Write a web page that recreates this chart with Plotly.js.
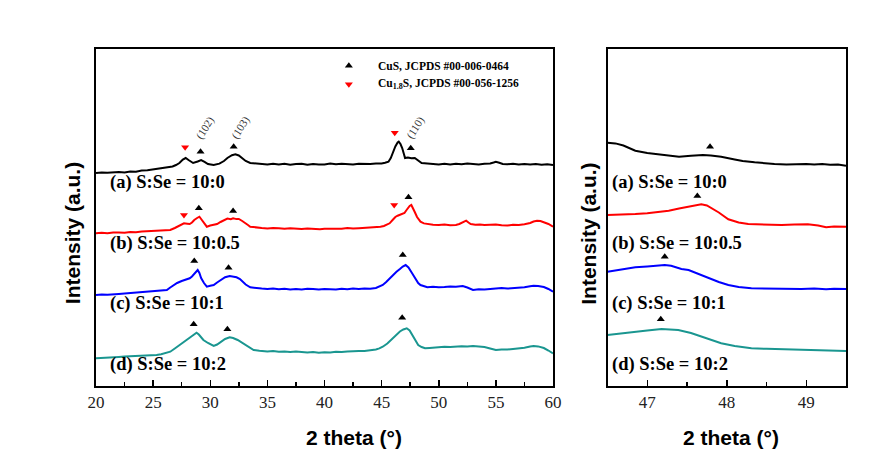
<!DOCTYPE html>
<html>
<head>
<meta charset="utf-8">
<script src="https://cdn.plot.ly/plotly-3.0.1.min.js"></script>
<style>html,body{margin:0;padding:0;background:#fff;}#chart{width:892px;height:462px;}</style>
</head>
<body>
<div id="chart"></div>
<script>
// ---- Left panel (2θ 20–60) ----
const leftX_a = [20,20.5,21,21.5,22,22.5,23,23.5,24,24.5,25,25.5,26,26.4,26.7,27.0,27.3,27.6,27.85,28.1,28.5,28.9,29.2,29.5,29.8,30.3,30.8,31.2,31.5,31.9,32.2,32.5,32.8,33.1,33.5,34,34.5,35,35.5,36,36.5,37,37.5,38,38.5,39,39.5,40,40.5,41,41.5,42,42.5,43,43.5,44,44.5,45,45.3,45.6,45.8,46.0,46.2,46.4,46.5,46.65,46.8,46.95,47.05,47.3,47.6,47.9,48.2,48.5,49,49.5,50,50.5,51,51.5,52,52.5,53,53.5,54,54.5,54.8,55,55.3,55.6,56,56.5,57,57.5,58,58.5,59,59.5,60];
const leftY_a = [213,213.6,213.2,213.9,214,213.6,214.6,214.3,215.5,215.8,216.5,217.4,218,218.6,219.5,221,223,226.5,228,226,223,224.5,226,224.2,222,221,222.4,225,228,230.8,231.7,230.5,228,225,223,222.4,222,221.4,222.3,221.5,222.2,221.3,222,222.3,221.2,222,221.6,221.5,222.4,221.7,222.2,222,221.4,222.3,222,222,222.6,222.5,223.2,224.3,228,234,239.5,243.5,244.3,242,238,232,228,228.5,227.8,228,225,223,222.6,222,221.6,222.3,221.5,222.2,221.7,222.4,222,221.5,222.2,222.5,223.5,224.3,223.2,222,221.7,222.2,221.5,222,221.4,222,221.3,221.8,221];

const leftX_b = [20,20.5,21,21.5,22,22.5,23,23.5,24,24.5,25,25.5,26,26.5,26.9,27.2,27.5,27.7,28,28.2,28.4,28.6,28.85,29.05,29.2,29.4,29.7,30,30.3,30.6,30.9,31.2,31.5,31.8,32.0,32.3,32.5,32.8,33.0,33.3,33.5,34,34.5,35,35.5,36,36.5,37,37.5,38,38.5,39,39.6,40,40.5,41,41.5,42,42.5,43,43.5,44,44.5,44.9,45.2,45.5,45.7,46,46.2,46.4,46.6,46.8,47.0,47.15,47.3,47.45,47.6,47.75,47.9,48.1,48.4,48.7,49,49.5,50,50.5,51,51.5,51.8,52.0,52.2,52.4,52.6,52.8,53.2,53.6,54,54.5,55,55.5,56,56.5,57,57.5,58,58.3,58.6,58.9,59.2,59.6,60];
const leftY_b = [152.7,153.2,152.8,153.6,153.5,153.2,154,153.7,154.5,154.8,155.2,155.5,155.8,156,158,160,161.5,162.7,162.3,162,163.5,166,168,169.3,167,164,159.3,160.5,161,162,164,166,167.5,166.8,167.7,166.9,167,165,163,161,159.3,158.4,158,157.5,158.1,157.7,157.2,157.8,157.1,157,157.5,156.8,156.7,157.3,157.1,157.5,157.2,157.9,157.4,157.7,158.2,158,158.5,159.2,160,161.5,162.7,166.5,169,170.3,171,172,173,175.5,178,180,181,178,174,169,164.3,162.6,162,161.3,161,161.4,160.8,161,162,163,164.5,165.3,163.5,162,161.3,161.6,161,161.4,161.5,160.7,160.5,161.2,161,161.8,163,164.5,165.3,165,164,162,159.3];

const leftX_c = [20,20.5,21,21.5,22,22.5,23,23.5,24,24.5,25,25.5,26,26.2,26.5,26.8,27.1,27.5,27.8,28.2,28.4,28.6,28.75,28.9,29.05,29.2,29.45,29.7,30,30.3,30.6,31.0,31.3,31.7,32.0,32.3,32.6,32.8,33.1,33.5,34,34.5,35,35.5,36,36.5,37,37.5,38,38.5,39,39.5,40,40.5,41,41.5,42,42.5,43,43.5,44,44.5,44.8,45.1,45.4,45.8,46.0,46.3,46.6,46.85,47.1,47.35,47.6,47.8,48.0,48.2,48.4,48.7,49.0,49.5,50,50.5,51,51.5,52.1,52.5,53.0,53.5,54,54.5,55,55.5,56,56.5,57,57.5,58,58.3,58.7,59.2,59.6,60];
const leftY_c = [91,91.6,91.2,91.9,92,92.4,92.8,93.3,94,94.4,94.8,95.3,95.8,96,98.5,101,103,105,106.2,107.7,109.5,112,114.5,116,113,108,103,99.3,100.2,101,103.5,107,108.8,110,109.2,108.7,107,105,101.5,98.7,97.8,97.4,97,97.6,96.8,97.2,96.5,97.1,96.6,97.3,97,96.4,97.1,96.7,96.5,97.2,96.8,97.4,97,97.5,97.3,98,99.2,101,104,109,111.5,114.3,117,119.5,121,118.5,114,110,106,103,101,99.5,98.7,99.3,98.7,99,99.6,99.3,100,98.5,96,96.8,96.4,97,97.6,98,97.4,97.8,98,98.7,99.8,100.3,100,99,97,94.3];

const leftX_d = [20,20.5,21,21.5,22,22.5,23,23.5,24,24.5,25,25.3,25.7,26.1,26.5,26.9,27.3,27.6,27.9,28.15,28.4,28.6,28.8,29.0,29.2,29.4,29.8,30.3,30.6,31.0,31.3,31.7,32.0,32.4,32.7,33.1,33.4,33.8,34.3,35,35.5,36,36.5,37,37.5,38,38.5,39,39.5,40,40.5,41,41.5,42,42.5,43,43.5,44,44.5,44.8,45.1,45.5,45.8,46.0,46.3,46.6,46.9,47.2,47.45,47.7,47.95,48.2,48.5,48.8,49.2,49.6,50,50.5,51,51.5,52,52.5,53,53.5,54,54.5,55,55.5,56,56.5,57,57.5,58,58.3,58.7,59.2,59.6,60];
const leftY_d = [27.7,28.2,28.5,28.8,29,29.4,29.6,29.9,30,30.5,30.8,31,31.8,32.8,34.3,37.5,41,43.5,46,48.2,50,51.8,53.3,51.5,48.2,46,43,40,41.5,45,47,48.7,48,46,43.8,41,38.5,36,35.2,34.5,34.9,34.2,34.6,34,34.4,33.8,33.6,33.9,33.3,33.8,33.5,34.2,34,34.6,34.4,34.9,35,35.6,36.5,37.6,39.3,42.5,46,48.5,52,54.5,56.5,57.7,55.5,51,46,41,39,37.7,38,38.5,38.5,39.2,39,39.5,39.8,39.4,40,39.6,39,37.5,36,36.6,36.4,37,37.4,38.2,39.5,40,39.6,38,35.5,32.7];

// ---- Right panel (2θ 46.5–49.5) ----
const rightX_a = [46.5,46.6,46.7,46.85,47.0,47.15,47.3,47.4,47.55,47.7,47.8,47.93,48.1,48.2,48.35,48.5,48.6,48.75,48.9,49.0,49.1,49.2,49.3,49.4,49.5];
const rightY_a = [243.3,242.6,240.5,235.3,233,231.5,230,229.3,230.2,231,230.4,229.3,226.5,225,223.7,222.3,222,221.5,222.1,222,221.5,222.1,221.3,221.6,220.3];
const rightX_b = [46.5,46.65,46.85,47.0,47.15,47.27,47.4,47.56,47.68,47.75,47.81,47.9,48.02,48.15,48.27,48.45,48.69,48.85,49.02,49.15,49.25,49.35,49.5];
const rightY_b = [171,171.3,172,172.8,174,175.3,177.5,180.3,181.7,180.5,177.7,173.5,166.7,163.5,162,161.4,161,161.6,161.7,160.5,158.7,159.5,159.3];
const rightX_c = [46.5,46.65,46.85,47.0,47.22,47.3,47.43,47.52,47.65,47.77,47.9,48.02,48.15,48.31,48.5,48.7,48.94,49.1,49.25,49.35,49.5];
const rightY_c = [114.3,116.5,118.7,119.5,121,120.2,117,116,112,107.7,104,101,99,97.7,97.3,97.2,97,97.5,96.8,97.3,97];
const rightX_d = [46.5,46.65,46.85,47.0,47.18,47.39,47.55,47.68,47.8,47.93,48.1,48.31,48.5,48.69,48.9,49.1,49.3,49.5];
const rightY_d = [51,52.5,54.3,55.5,57,56,53,49.3,46,42.7,40,37.7,37.2,36.7,36.4,36,35.4,35];

// ---- Phase markers ----
const cusLeftX = [29.15,32.05,47.55, 29.0,32.0,47.35, 28.6,31.6,46.85, 28.55,31.5,46.8];
const cusLeftY = [234.3,239.3,237.7, 177.7,175,188.7, 125,118.3,131, 61.7,56.7,68.3];
const cu18LeftX = [27.8,46.15, 27.7,46.1];
const cu18LeftY = [238.7,253.3, 171,181];
const cusRightX = [47.79,47.63,47.22,47.17];
const cusRightY = [239.3,190,129.3,66.7];

// ---- Labels ----
const sampleLabels = ['(a) S:Se = 10:0','(b) S:Se = 10:0.5','(c) S:Se = 10:1','(d) S:Se = 10:2'];
const hklLabels = ['(102)','(103)','(110)'];
const hklX = [29.5,32.64,47.95];
const hklY = [258,259,259];
const legendLabels = ['CuS, JCPDS #00-006-0464','Cu<sub>1.8</sub>S, JCPDS #00-056-1256'];
const legendMarkX = [42.13,42.13];
const legendMarkY = [320.3,301.7];
const leftTicks = [20,25,30,35,40,45,50,55,60];
const rightTicks = [47,48,49];

const colors = ['#000000','#ff0000','#0000ff','#1a9690'];
const lw = 2;

function line(x,y,c,xa,ya){return {x:x,y:y,type:'scatter',mode:'lines',line:{color:c,width:lw},xaxis:xa,yaxis:ya,hoverinfo:'skip',showlegend:false};}
function marks(x,y,c,sym,xa,ya,sz){return {x:x,y:y,type:'scatter',mode:'markers',marker:{color:c,symbol:sym,size:sz||7},xaxis:xa,yaxis:ya,hoverinfo:'skip',showlegend:false};}

const data = [
  line(leftX_a,leftY_a,colors[0],'x','y'),
  line(leftX_b,leftY_b,colors[1],'x','y'),
  line(leftX_c,leftY_c,colors[2],'x','y'),
  line(leftX_d,leftY_d,colors[3],'x','y'),
  line(rightX_a,rightY_a,colors[0],'x2','y2'),
  line(rightX_b,rightY_b,colors[1],'x2','y2'),
  line(rightX_c,rightY_c,colors[2],'x2','y2'),
  line(rightX_d,rightY_d,colors[3],'x2','y2'),
  marks(cusLeftX,cusLeftY,'#000','triangle-up','x','y'),
  marks(cu18LeftX,cu18LeftY,'#ff0000','triangle-down','x','y'),
  marks(cusRightX,cusRightY,'#000','triangle-up','x2','y2'),
  marks([legendMarkX[0]],[legendMarkY[0]],'#000','triangle-up','x','y'),
  marks([legendMarkX[1]],[legendMarkY[1]],'#ff0000','triangle-down','x','y')
];

const serif = 'Liberation Serif, Times New Roman, serif';
const annotations = [];
const labelY = [0.6046,0.4734,0.3435,0.21];
sampleLabels.forEach((t,i)=>{
  annotations.push({xref:'paper',yref:'paper',x:0.1211,y:labelY[i],xanchor:'left',yanchor:'middle',text:'<b>'+t+'</b>',showarrow:false,font:{family:serif,size:18.5,color:'#000'}});
  annotations.push({xref:'paper',yref:'paper',x:0.6839,y:labelY[i],xanchor:'left',yanchor:'middle',text:'<b>'+t+'</b>',showarrow:false,font:{family:serif,size:18.5,color:'#000'}});
});
hklLabels.forEach((t,i)=>{
  annotations.push({xref:'x',yref:'y',x:hklX[i],y:hklY[i],text:t,showarrow:false,textangle:-58,font:{family:serif,size:11,color:'#333'}});
});
legendLabels.forEach((t,i)=>{
  annotations.push({xref:'x',yref:'y',x:44.5,y:legendMarkY[i],xanchor:'left',yanchor:'middle',text:'<b>'+t+'</b>',showarrow:false,font:{family:serif,size:11.5,color:'#000'}});
});
const titleFontX = {family:'Liberation Sans, Arial, sans-serif',size:21,color:'#000'};
const titleFontY = {family:'Liberation Sans, Arial, sans-serif',size:21,color:'#000'};
annotations.push({xref:'paper',yref:'paper',x:0.397,y:0.054,xanchor:'center',yanchor:'middle',text:'<b>2 theta (°)</b>',showarrow:false,font:titleFontX});
annotations.push({xref:'paper',yref:'paper',x:0.8195,y:0.054,xanchor:'center',yanchor:'middle',text:'<b>2 theta (°)</b>',showarrow:false,font:titleFontX});
annotations.push({xref:'paper',yref:'paper',x:0.0815,y:0.4946,xanchor:'center',yanchor:'middle',text:'<b>Intensity (a.u.)</b>',textangle:-90,showarrow:false,font:titleFontY});
annotations.push({xref:'paper',yref:'paper',x:0.6595,y:0.4946,xanchor:'center',yanchor:'middle',text:'<b>Intensity (a.u.)</b>',textangle:-90,showarrow:false,font:titleFontY});

const yTop = 1-49/462, yBot = 1-386/462;
const xCommon = {showgrid:false,zeroline:false,showline:true,linecolor:'#000',linewidth:2,mirror:true,ticks:'inside',ticklen:6,tickwidth:1.5,tickcolor:'#000',tickfont:{family:serif,size:17,color:'#222'}};
const yCommon = {showgrid:false,zeroline:false,showline:true,linecolor:'#000',linewidth:2,mirror:true,ticks:'',showticklabels:false,range:[0,337],domain:[yBot,yTop]};

const layout = {
  width:892,height:462,
  margin:{l:0,r:0,t:0,b:0},
  paper_bgcolor:'#fff',plot_bgcolor:'#fff',
  showlegend:false,
  xaxis:Object.assign({},xCommon,{domain:[96/892,553/892],range:[20,60],tickvals:leftTicks,ticktext:leftTicks.map(String),minor:{dtick:2.5,tick0:20,ticks:'inside',ticklen:4,tickwidth:1.5,tickcolor:'#000'},anchor:'y'}),
  yaxis:Object.assign({},yCommon,{anchor:'x'}),
  xaxis2:Object.assign({},xCommon,{domain:[607.5/892,846/892],range:[46.5,49.5],tickvals:rightTicks,ticktext:rightTicks.map(String),minor:{dtick:0.5,tick0:46.5,ticks:'inside',ticklen:4,tickwidth:1.5,tickcolor:'#000'},anchor:'y2'}),
  yaxis2:Object.assign({},yCommon,{anchor:'x2'}),
  annotations:annotations
};

Plotly.newPlot('chart',data,layout,{staticPlot:true,displayModeBar:false});
</script>
</body>
</html>
